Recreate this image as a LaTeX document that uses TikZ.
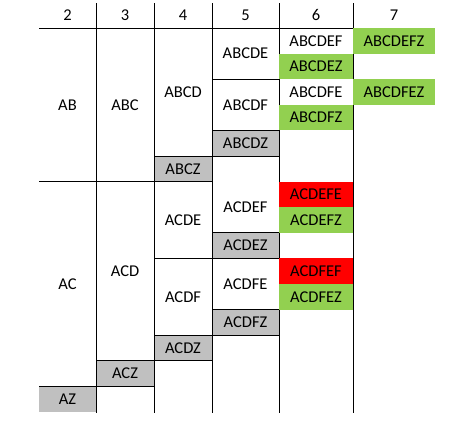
\documentclass[tikz,border=0pt]{standalone}
\usepackage{fontspec}
\setmainfont{Carlito}
\usetikzlibrary{positioning}
\definecolor{CellGreen}{HTML}{92D050}
\definecolor{CellRed}{HTML}{FF0000}
\definecolor{CellGray}{HTML}{C0C0C0}

\begin{document}
\begin{tikzpicture}[x=1pt,y=-1pt,
  every node/.style={font=\fontsize{16.5}{18}\selectfont,inner sep=0pt,outer sep=0pt},
  gridline/.style={line width=0.9pt},
  graycell/.style={fill=CellGray,minimum height=25.6pt},
  greencell/.style={fill=CellGreen,minimum height=25.6pt},
  redcell/.style={fill=CellRed,minimum height=25.6pt}]
  \useasboundingbox (0,0) rectangle (473,431);
  % gray end cells
  \node[graycell,minimum width=67pt] (abcdz) at (245.5,143.2) {ABCDZ};
  \node[graycell,minimum width=58pt] (abcz) at (183,168.8) {ABCZ};
  \node[graycell,minimum width=67pt] (acdez) at (245.5,245.6) {ACDEZ};
  \node[graycell,minimum width=67pt] (acdfz) at (245.5,322.4) {ACDFZ};
  \node[graycell,minimum width=58pt] (acdz) at (183,348) {ACDZ};
  \node[graycell,minimum width=58pt] (acz) at (125,373.6) {ACZ};
  \node[graycell,minimum width=57pt] (az) at (67.5,399.2) {AZ};
  % grid
  \draw[gridline] (39,28) -- (435,28);
  \foreach \cx in {96,154,212,279,353}
    \draw[gridline] (\cx,3) -- (\cx,413);
  \draw[gridline] (212,79.2) -- (279,79.2);
  \draw[gridline] (212,130.4) -- (279,130.4);
  \draw[gridline] (154,156) -- (279,156);
  \draw[gridline] (39,181.6) -- (212,181.6);
  \draw[gridline] (212,232.8) -- (279,232.8);
  \draw[gridline] (154,258.4) -- (279,258.4);
  \draw[gridline] (212,309.6) -- (279,309.6);
  \draw[gridline] (154,335.2) -- (279,335.2);
  \draw[gridline] (96,360.8) -- (212,360.8);
  \draw[gridline] (39,386.4) -- (154,386.4);
  % coloured cells, columns 6 and 7
  \node[greencell,minimum width=74pt] (abcdez) at (316,66.4) {ABCDEZ};
  \node[greencell,minimum width=74pt] (abcdfz) at (316,117.6) {ABCDFZ};
  \node[redcell,minimum width=74pt] (acdefe) at (316,194.4) {ACDEFE};
  \node[greencell,minimum width=74pt] (acdefz) at (316,220) {ACDEFZ};
  \node[redcell,minimum width=74pt] (acdfef) at (316,271.2) {ACDFEF};
  \node[greencell,minimum width=74pt] (acdfez) at (316,296.8) {ACDFEZ};
  \node[greencell,minimum width=82pt] (abcdefz) at (394,40.8) {ABCDEFZ};
  \node[greencell,minimum width=82pt] (abcdfez) at (394,92) {ABCDFEZ};
  % header
  \node (h2) at (67.5,15) {2};
  \node (h3) at (125,15) {3};
  \node (h4) at (183,15) {4};
  \node (h5) at (245.5,15) {5};
  \node (h6) at (316,15) {6};
  \node (h7) at (394,15) {7};
  % plain cells
  \node (ab) at (67.5,104.8) {AB};
  \node (ac) at (67.5,284) {AC};
  \node (abc) at (125,104.8) {ABC};
  \node (acd) at (125,271.2) {ACD};
  \node (abcd) at (183,92.2) {ABCD};
  \node (acde) at (183,220) {ACDE};
  \node (acdf) at (183,296.8) {ACDF};
  \node (abcde) at (245.5,53.6) {ABCDE};
  \node (abcdf) at (245.5,104.8) {ABCDF};
  \node (acdef) at (245.5,207.2) {ACDEF};
  \node (acdfe) at (245.5,284) {ACDFE};
  \node (abcdef) at (316,40.8) {ABCDEF};
  \node (abcdfe) at (316,92) {ABCDFE};
\end{tikzpicture}
\end{document}
